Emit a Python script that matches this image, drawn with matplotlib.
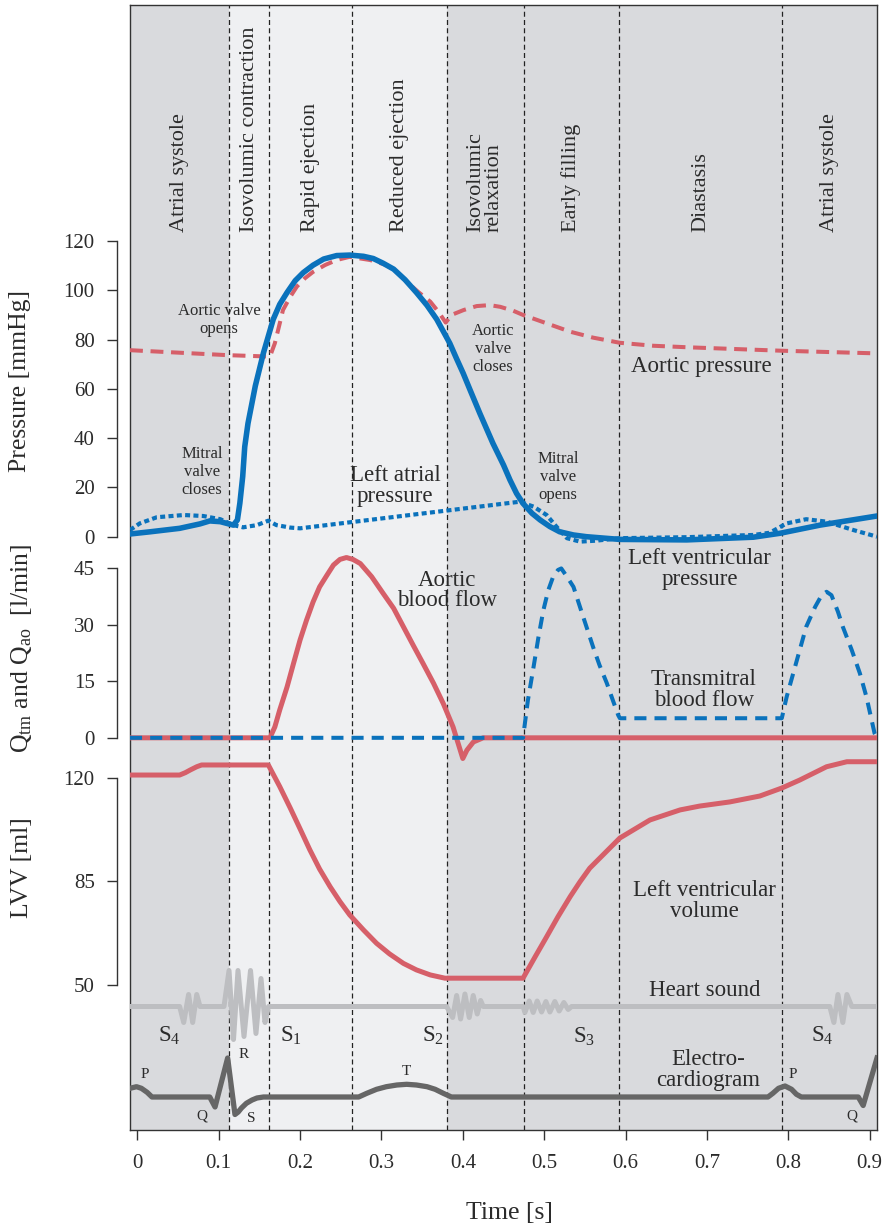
import numpy as np
import matplotlib
matplotlib.use('Agg')
from matplotlib import pyplot as plt

plt.rcParams['font.family'] = 'Liberation Serif'
plt.rcParams['mathtext.fontset'] = 'custom'
plt.rcParams['mathtext.rm'] = 'Liberation Serif'
plt.rcParams['mathtext.it'] = 'Liberation Serif:italic'

# ---- cardiac cycle phases (time in s) ----
phase_edges = [-0.009, 0.113, 0.162, 0.264, 0.380, 0.475, 0.592, 0.792, 0.909]
phase_names = ['Atrial systole', 'Isovolumic contraction', 'Rapid ejection',
               'Reduced ejection', 'Isovolumic\nrelaxation', 'Early filling',
               'Diastasis', 'Atrial systole']
phase_systole = [False, True, True, True, False, False, False, False]

time_ticks = [0, 0.1, 0.2, 0.3, 0.4, 0.5, 0.6, 0.7, 0.8, 0.9]
time_labels = ['0', '0.1', '0.2', '0.3', '0.4', '0.5', '0.6', '0.7', '0.8', '0.9']

# ---- pressures [mmHg] ----
t_lv = [-0.009, 0.016, 0.052, 0.077, 0.089, 0.102, 0.118, 0.123, 0.126, 0.1295,
        0.132, 0.136, 0.145, 0.155, 0.167, 0.175, 0.184, 0.194, 0.204, 0.216,
        0.229, 0.245, 0.261, 0.278, 0.290, 0.302, 0.315, 0.329, 0.343, 0.356,
        0.368, 0.384, 0.392, 0.4005, 0.409, 0.421, 0.437, 0.450, 0.458, 0.466,
        0.474, 0.485, 0.495, 0.507, 0.519, 0.536, 0.552, 0.593, 0.675, 0.757,
        0.790, 0.839, 0.909]
p_lv = [1.1, 2.0, 3.4, 5.2, 6.4, 6.1, 4.7, 6.8, 13.6, 24.4,
        36.5, 46.0, 61.2, 74.6, 88.2, 94.3, 99.1, 103.9, 107.2, 110.2,
        112.7, 114.1, 114.3, 113.8, 112.9, 111.0, 108.6, 104.3, 99.1, 93.9,
        88.2, 78.5, 72.5, 66.3, 59.5, 50.0, 37.9, 29.1, 23.0, 17.6,
        13.5, 9.5, 6.8, 4.1, 2.0, 0.7, 0.0, -1.1, -1.3, -0.2,
        1.4, 4.7, 8.4]

t_ao = [-0.009, 0.110, 0.163, 0.169, 0.174, 0.179, 0.188, 0.196, 0.206, 0.216,
        0.231, 0.245, 0.261, 0.286, 0.306, 0.319, 0.331, 0.345, 0.360, 0.370,
        0.379, 0.386, 0.401, 0.417, 0.433, 0.446, 0.462, 0.474, 0.503, 0.532,
        0.560, 0.593, 0.634, 0.675, 0.790, 0.909]
p_ao = [75.7, 73.7, 73.1, 78.5, 85.2, 92.0, 97.4, 101.5, 104.9, 107.5,
        110.3, 112.3, 113.6, 112.3, 110.3, 107.5, 103.5, 99.4, 95.4, 91.3,
        86.9, 90.0, 92.0, 93.6, 94.0, 93.3, 91.7, 90.0, 86.6, 83.2,
        80.8, 78.7, 77.5, 76.9, 75.5, 74.4]

t_la = [-0.009, 0.003, 0.024, 0.057, 0.081, 0.102, 0.118, 0.130, 0.147, 0.161,
        0.171, 0.188, 0.200, 0.335, 0.470, 0.487, 0.503, 0.515, 0.528, 0.544,
        0.564, 0.593, 0.675, 0.757, 0.777, 0.798, 0.822, 0.847, 0.880, 0.909]
p_la = [2.7, 5.4, 7.9, 8.8, 8.4, 7.1, 4.7, 3.8, 4.7, 6.5,
        4.7, 3.7, 3.4, 8.8, 14.2, 12.2, 8.8, 4.1, -0.6, -2.0,
        -1.6, -0.6, -0.2, 0.7, 1.6, 5.4, 7.1, 6.1, 2.7, 0.0]

# ---- flows [l/min] ----
t_qao = [-0.009, 0.163, 0.169, 0.175, 0.184, 0.192, 0.200, 0.208, 0.216, 0.224,
         0.233, 0.241, 0.249, 0.257, 0.265, 0.274, 0.288, 0.302, 0.315, 0.327,
         0.339, 0.351, 0.364, 0.376, 0.388, 0.400, 0.405, 0.413, 0.425, 0.909]
q_ao = [0, 0, 2.9, 7.4, 13.5, 19.8, 26.0, 31.3, 36.1, 40.1,
        43.2, 45.9, 47.4, 47.9, 47.4, 46.3, 42.8, 38.4, 34.4, 29.5,
        24.6, 19.8, 14.5, 9.1, 2.9, -5.5, -3.3, -1.1, 0, 0]

t_qtm = [-0.009, 0.474, 0.480, 0.487, 0.493, 0.499, 0.505, 0.511, 0.517, 0.521,
         0.528, 0.536, 0.548, 0.560, 0.568, 0.577, 0.585, 0.591, 0.593, 0.792,
         0.798, 0.806, 0.814, 0.822, 0.833, 0.841, 0.847, 0.853, 0.861, 0.867,
         0.878, 0.888, 0.896, 0.906, 0.909]
q_tm = [0, 0, 10.0, 18.9, 26.8, 33.9, 39.2, 42.8, 44.6, 45.0,
        42.8, 40.1, 32.1, 24.2, 19.3, 14.5, 9.6, 6.0, 5.2, 5.2,
        10.9, 17.1, 23.3, 29.5, 34.8, 37.9, 38.8, 37.9, 33.5, 29.5,
        23.3, 17.1, 10.9, 1.2, 0]

# ---- left ventricular volume [ml] ----
t_lvv = [-0.009, 0.052, 0.059, 0.065, 0.073, 0.079, 0.161, 0.175, 0.188, 0.200,
         0.212, 0.224, 0.237, 0.249, 0.261, 0.278, 0.294, 0.310, 0.327, 0.343,
         0.360, 0.378, 0.474, 0.489, 0.503, 0.517, 0.532, 0.544, 0.556, 0.593,
         0.630, 0.667, 0.691, 0.728, 0.765, 0.792, 0.814, 0.847, 0.872, 0.909]
v_lvv = [121.0, 121.0, 121.8, 122.7, 123.8, 124.4, 124.4, 117.1, 109.8, 102.8,
         95.7, 89.2, 83.2, 78.2, 73.7, 68.6, 64.1, 60.5, 57.3, 55.1,
         53.4, 52.3, 52.3, 59.6, 66.3, 73.1, 79.9, 84.9, 89.5, 99.7,
         105.8, 109.2, 110.5, 111.9, 113.9, 116.6, 119.3, 123.8, 125.5, 125.5]

# ---- heart sounds (arbitrary units) ----
s4a_t = [0.052, 0.057, 0.063, 0.068, 0.073, 0.077]
s4a = [0, -1.6, 1.2, -1.6, 1.2, 0]
s1_t = [0.1065, 0.1127, 0.1182, 0.1237, 0.1311, 0.1391, 0.1458, 0.1520, 0.1569, 0.1612]
s1 = [0, 3.6, -3.3, 3.6, -3.0, 3.6, -2.7, 2.8, -1.6, 0]
s2_t = [0.3801, 0.3875, 0.3924, 0.3973, 0.4026, 0.4079, 0.4128, 0.4177, 0.4219, 0.4251]
s2 = [0, -1.1, 1.1, -1.25, 1.25, -1.1, 1.1, -0.75, 0.6, 0]
s3_t = [0.4742, 0.4763, 0.4816, 0.4865, 0.4914, 0.4968, 0.5021, 0.5070, 0.5131,
        0.5184, 0.5242, 0.5295, 0.5337]
s3 = [0, -0.6, 0.55, -0.6, 0.55, -0.55, 0.5, -0.55, 0.5, -0.45, 0.4, -0.3, 0]
s4b_t = [0.851, 0.856, 0.861, 0.867, 0.872, 0.878]
s4b = [0, -1.6, 1.2, -1.6, 1.2, 0]

# ---- ECG (arbitrary units) ----
t_ecg = [-0.009, -0.001, 0.005, 0.012, 0.018, 0.089, 0.0955, 0.111, 0.120, 0.124,
         0.128, 0.134, 0.141, 0.147, 0.155, 0.272, 0.282, 0.294, 0.306, 0.319,
         0.331, 0.343, 0.356, 0.366, 0.376, 0.386, 0.775, 0.781, 0.788, 0.796,
         0.804, 0.810, 0.816, 0.886, 0.892, 0.909]
ecg = [0.87, 1.03, 0.87, 0.47, 0, 0, -1.0, 3.9, -1.75, -1.5,
       -1.1, -0.63, -0.3, -0.1, 0, 0, 0.37, 0.77, 1.03, 1.2,
       1.27, 1.2, 1.03, 0.77, 0.37, 0, 0, 0.37, 0.87, 1.1,
       0.77, 0.27, 0, 0, -0.85, 3.9]
ecg_marks = ['P', 'Q', 'R', 'S', 'T', 'P', 'Q']
ecg_mark_t = [0.0095, 0.0791, 0.1311, 0.1405, 0.331, 0.8052, 0.8784]
ecg_mark_y = [2.2, -1.95, 4.2, -2.2, 2.55, 2.2, -1.95]

sound_marks = ['S$_4$', 'S$_1$', 'S$_2$', 'S$_3$', 'S$_4$']
sound_mark_t = [0.0254, 0.1753, 0.3498, 0.5353, 0.8276]
sound_mark_y = [-3.55, -3.55, -3.55, -3.65, -3.55]

BLUE = '#0a72bc'
RED = '#d65f69'
DARK = '#d9dadd'
LIGHT = '#eff0f2'
INK = '#2b2b2b'
XLIM = (-0.009, 0.909)
rect = [130 / 890, 1 - 1130 / 1229, 747 / 890, 1125 / 1229]

fig = plt.figure(figsize=(8.9, 12.29), dpi=100)

# background: phases, dashed separators, time axis
ax = fig.add_axes(rect)
ax.set_xlim(*XLIM)
ax.set_ylim(0, 1)
ax.set_yticks([])
for i in range(len(phase_names)):
    ax.axvspan(phase_edges[i], phase_edges[i + 1],
               color=LIGHT if phase_systole[i] else DARK, lw=0, zorder=0)
    ax.text((phase_edges[i] + phase_edges[i + 1]) / 2, 0.798, phase_names[i],
            rotation=90, ha='center', va='bottom', multialignment='left',
            fontsize=16, color=INK, linespacing=0.95)
for x in phase_edges[1:-1]:
    ax.axvline(x, color='#222222', lw=0.9, ls=(0, (4, 2.6)), zorder=1)
for s in ax.spines.values():
    s.set_color('#333333')
    s.set_linewidth(1.0)
ax.set_xticks(time_ticks)
ax.set_xticklabels(time_labels)
ax.tick_params(axis='x', direction='out', length=7.5, width=1.0, pad=10,
               labelsize=15, colors='#333333', labelcolor=INK)


def panel(ylim, ticks=None):
    a = fig.add_axes(rect)
    a.set_facecolor('none')
    a.set_xlim(*XLIM)
    a.set_ylim(*ylim)
    for s in a.spines.values():
        s.set_visible(False)
    a.set_xticks([])
    if ticks is None:
        a.set_yticks([])
    else:
        sp = a.spines['left']
        sp.set_visible(True)
        sp.set_position(('outward', 9.4))
        sp.set_bounds(ticks[0], ticks[-1])
        sp.set_color('#333333')
        sp.set_linewidth(1.0)
        a.set_yticks(ticks)
        a.tick_params(axis='y', direction='out', length=7, width=1.0, pad=9,
                      labelsize=15, colors='#333333', labelcolor=INK)
    return a


# pressure panel
ap = panel((-240.8, 215.8), [0, 20, 40, 60, 80, 100, 120])
ap.plot(t_ao, p_ao, color=RED, lw=2.9, ls=(0, (3.2, 1.9)))
ap.plot(t_lv, p_lv, color=BLUE, lw=4.0, solid_joinstyle='round')
ap.plot(t_la, p_la, color=BLUE, lw=3.0, ls=(0, (1.2, 0.8)))
small = dict(ha='center', va='center', fontsize=12, color=INK, linespacing=1.15)
big = dict(ha='center', va='center', fontsize=16.5, color=INK, linespacing=0.95)
ap.text(0.1004, 87.9, 'Aortic valve\nopens', **small)
ap.text(0.0795, 26.3, 'Mitral\nvalve\ncloses', **small)
ap.text(0.4370, 76.2, 'Aortic\nvalve\ncloses', **small)
ap.text(0.5169, 24.2, 'Mitral\nvalve\nopens', **small)
ap.text(0.6937, 68.9, 'Aortic pressure', **big)
ap.text(0.3166, 20.6, 'Left atrial\npressure', **big)
ap.text(0.6913, -13.1, 'Left ventricular\npressure', **big)

# flow panel
aq = panel((-104.2, 194.7), [0, 15, 30, 45])
aq.plot(t_qao, q_ao, color=RED, lw=3.6, solid_joinstyle='round')
aq.plot(t_qtm, q_tm, color=BLUE, lw=2.9, ls=(0, (3.0, 2.0)))
aq.text(0.3805, 39.2, 'Aortic\nblood flow', **big)
aq.text(0.6962, 12.7, 'Transmitral\nblood flow', **big)

# volume panel
av = panel((0.96, 381.4), [50, 85, 120])
av.plot(t_lvv, v_lvv, color=RED, lw=3.6, solid_joinstyle='round')
av.text(0.6974, 78.4, 'Left ventricular\nvolume', **big)

# heart sound trace: flat baseline with the four bursts
hs_t = [XLIM[0]] + s4a_t + s1_t + s2_t + s3_t + s4b_t + [XLIM[1]]
hs = [0] + s4a + s1 + s2 + s3 + s4b + [0]
ah = panel((-12.35, 100.15))
ah.plot(hs_t, hs, color='#bdbec1', lw=3.6, solid_joinstyle='round')
ah.text(0.6974, 1.55, 'Heart sound', **big)
for lab, x, y in zip(sound_marks, sound_mark_t, sound_mark_y):
    ah.text(x, y, lab, ha='left', va='baseline', fontsize=16.5, color=INK)

# electrocardiogram
ae = panel((-3.3, 109.2))
ae.plot(t_ecg, ecg, color='#666666', lw=3.8, solid_joinstyle='round')
ae.text(0.7011, 2.7, 'Electro-\ncardiogram', **big)
for lab, x, y in zip(ecg_marks, ecg_mark_t, ecg_mark_y):
    ae.text(x, y, lab, ha='center', va='center', fontsize=11, color=INK)

# axis titles
fig.text(20 / 890, 1 - 381 / 1229, 'Pressure [mmHg]', rotation=90,
         ha='center', va='center', fontsize=18.5, color=INK)
fig.text(22 / 890, 1 - 648 / 1229, r'Q$_{\mathrm{tm}}$ and Q$_{\mathrm{ao}}$  [l/min]',
         rotation=90, ha='center', va='center', fontsize=18.5, color=INK)
fig.text(22 / 890, 1 - 868 / 1229, 'LVV [ml]', rotation=90,
         ha='center', va='center', fontsize=18.5, color=INK)
fig.text(509 / 890, 1 - 1213 / 1229, 'Time [s]', ha='center', va='center',
         fontsize=18.5, color=INK)

fig.savefig('out.png', dpi=100)
